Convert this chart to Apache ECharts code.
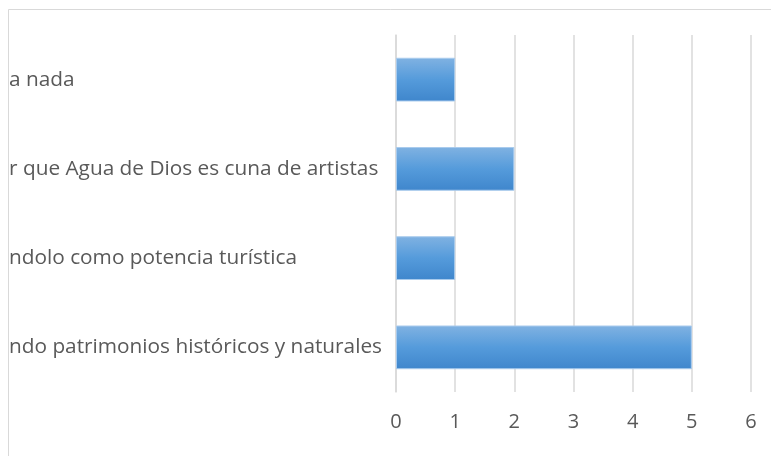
<!DOCTYPE html>
<html>
<head>
<meta charset="utf-8">
<script src="https://cdn.jsdelivr.net/npm/echarts@6/dist/echarts.min.js"></script>
<style>html,body{margin:0;padding:0;background:#fff;}#c{width:771px;height:456px;}</style>
</head>
<body>
<div id="c"></div>
<script>
var categories = [
  'a nada',
  'r que Agua de Dios es cuna de artistas',
  'ndolo como potencia turística',
  'ndo patrimonios históricos y naturales'
];
var values = [1, 2, 1, 5];
var tickMin = 0, tickMax = 6, tickStep = 1;

var chart = echarts.init(document.getElementById('c'));
chart.setOption({
  animation: false,
  backgroundColor: '#fff',
  graphic: [{
    type: 'rect',
    shape: { x: 8.5, y: 9.5, width: 800, height: 500 },
    style: { fill: 'none', stroke: '#d9d9d9', lineWidth: 1 },
    silent: true
  }],
  grid: { left: 396, right: 20, top: 35, bottom: 64 },
  xAxis: {
    type: 'value', min: tickMin, max: tickMax, interval: tickStep,
    axisLine: { show: false }, axisTick: { show: false },
    splitLine: { show: true, lineStyle: { color: '#d9d9d9', width: 1.5 } },
    axisLabel: { color: '#595959', fontSize: 20, fontFamily: 'Open Sans', margin: 20 }
  },
  yAxis: {
    type: 'category', data: categories, inverse: true,
    axisLine: { show: true, lineStyle: { color: '#d9d9d9', width: 1.5 } },
    axisTick: { show: false },
    axisLabel: { color: '#595959', fontSize: 20.8, fontFamily: 'Open Sans', margin: 387, align: 'left', padding: [6, 0, 0, 0] }
  },
  series: [{
    type: 'bar', data: values, barWidth: '49%',
    itemStyle: {
      color: new echarts.graphic.LinearGradient(0, 0, 0, 1, [
        { offset: 0, color: '#80b2e2' },
        { offset: 0.5, color: '#559bdb' },
        { offset: 1, color: '#3f86cc' }
      ]),
      borderColor: '#a9cbed', borderWidth: 1
    }
  }]
});
</script>
</body>
</html>
